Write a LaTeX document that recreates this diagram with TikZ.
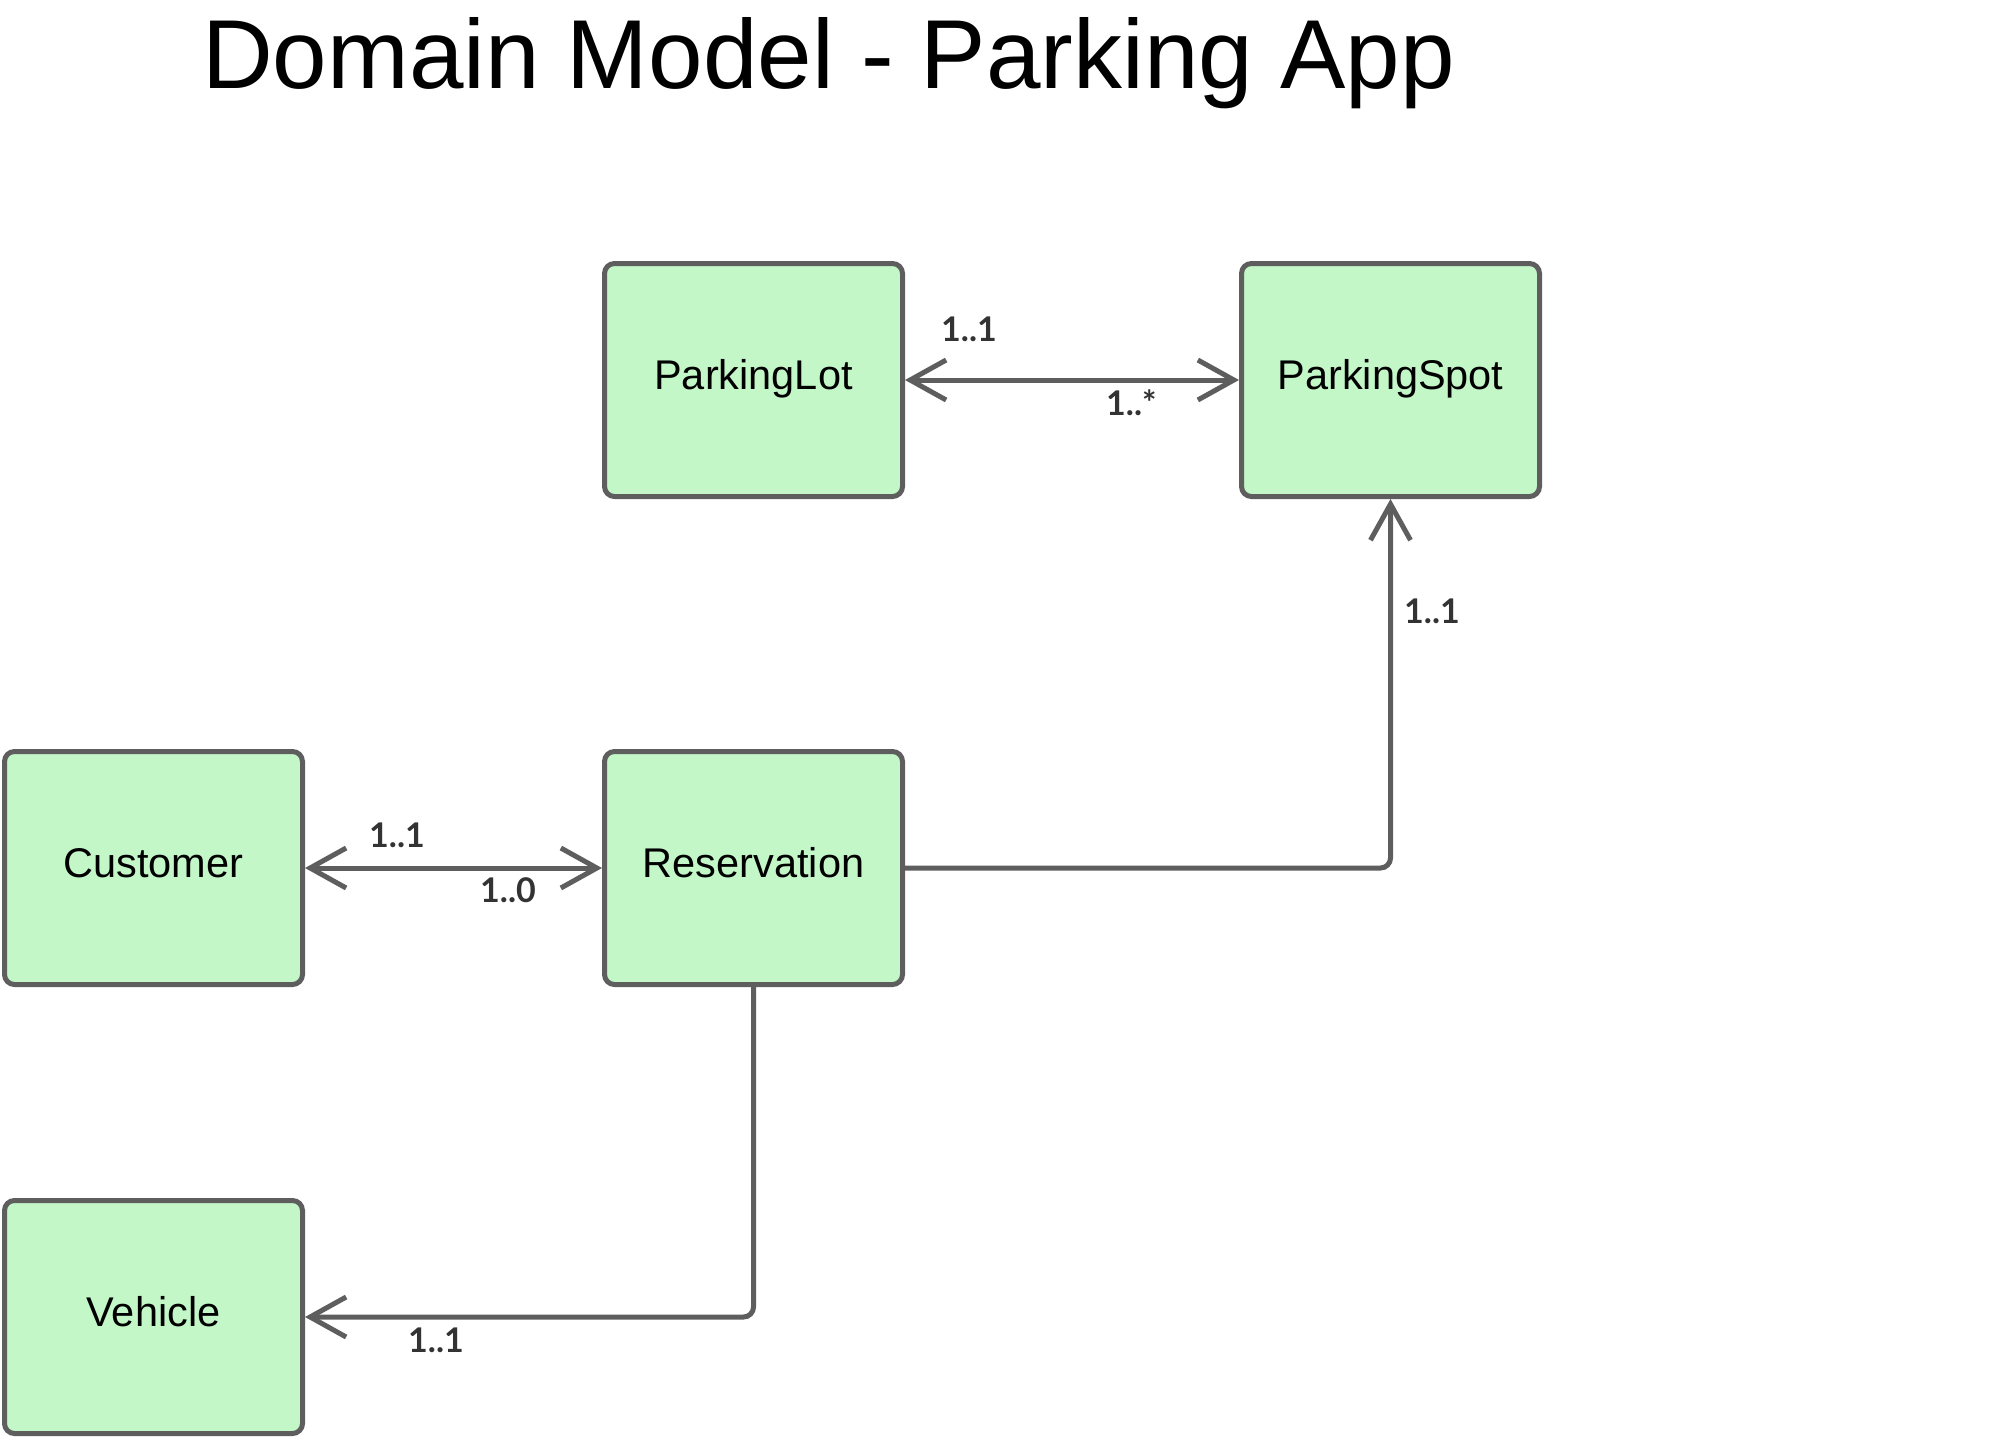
\documentclass[tikz,border=0pt]{standalone}
\usepackage{fontspec}
\setmainfont{Liberation Sans}
\newfontfamily\latofont{Lato}
\usetikzlibrary{arrows.meta}
\definecolor{boxfill}{HTML}{C3F7C8}
\definecolor{boxline}{HTML}{5E5E5E}
\definecolor{multtext}{HTML}{333333}
\begin{document}
\begin{tikzpicture}[x=1pt,y=-1pt,
  >={Straight Barb[length=36pt,width=40pt,sharp]},
  box/.style={draw=boxline, fill=boxfill, line width=5pt, rounded corners=10pt,
    minimum width=298pt, minimum height=233pt, inner sep=0pt,
    font=\fontsize{41.5}{50}\selectfont, text height=31pt, text depth=13pt},
  link/.style={draw=boxline, line width=5pt, rounded corners=10pt},
  mult/.style={anchor=base west, inner sep=0pt, text=multtext,
    font=\latofont\bfseries\fontsize{34}{40}\selectfont}]
\useasboundingbox (0,0) rectangle (1989,1438);
\node[anchor=base west, inner sep=0pt, font=\fontsize{98}{112}\selectfont] (title) at (202,88) {Domain Model - Parking App};
\node[box] (1) at (753.5,380) {ParkingLot};
\node[box] (2) at (1390.5,380) {ParkingSpot};
\node[box] (3) at (153.5,868) {Customer};
\node[box] (4) at (753.5,868) {Reservation};
\node[box] (5) at (153.5,1317) {Vehicle};
\path[link,<->] (1) -- (2);
\path[link,<->] (3) -- (4);
\path[link,->] (4.east) -| (2.south);
\path[link,->] (4.south) |- (5.east);
\node[mult] (m1) at (941,341) {1..1};
\node[mult] (m2) at (1106,415) {1..*};
\node[mult] (m3) at (1404,623) {1..1};
\node[mult] (m4) at (369,847) {1..1};
\node[mult] (m5) at (480,902) {1..0};
\node[mult] (m6) at (408,1352) {1..1};
\end{tikzpicture}
\end{document}
